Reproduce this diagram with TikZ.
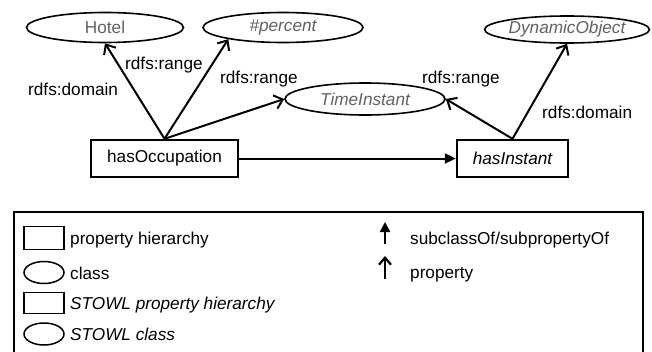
\documentclass[tikz,border=0pt]{standalone}
\usepackage{fontspec}
\setmainfont{Liberation Sans}
\usetikzlibrary{arrows.meta,shapes.geometric}
\begin{document}
\begin{tikzpicture}[x=1pt,y=-1pt,
  every node/.style={font=\fontsize{17.2}{20}\selectfont},
  cls/.style={ellipse, draw, line width=1.6pt, minimum width=157pt,
    minimum height=30pt, inner sep=0pt, text=black!62},
  prop/.style={rectangle, draw, line width=2.4pt, minimum height=37pt, inner sep=0pt},
  rel/.style={line width=2pt, -{Straight Barb[length=8pt,width=14pt,line width=2pt]}},
  sub/.style={line width=2pt, -{Triangle[length=11pt,width=10pt]}},
  lbl/.style={anchor=base west, inner sep=0pt},
  keyrect/.style={rectangle, draw, line width=1.5pt, minimum width=40pt, minimum height=23pt, inner sep=0pt},
  keyell/.style={ellipse, draw, line width=1.5pt, minimum width=40pt, minimum height=22pt, inner sep=0pt},
]
\useasboundingbox (0,0) rectangle (652,351);

% classes
\node[cls] (hotel) at (105,27.5) {Hotel};
\node[cls, minimum width=160pt] (pct) at (283,27.5) {\itshape \#percent};
\node[cls, minimum width=160pt, minimum height=32pt] (ti) at (365,99) {\itshape TimeInstant};
\node[cls, minimum width=155pt, minimum height=27pt] (dyn) at (567,29.5) {\itshape DynamicObject};

% properties
\node[prop, minimum width=147pt] (occ) at (164.5,158.5) {hasOccupation};
\node[prop, minimum width=111pt] (inst) at (512.5,158.5) {\itshape hasInstant};

% property edges
\draw[rel] (occ.north) -- (hotel.south);
\draw[rel] (occ.north) -- (pct.192);
\draw[rel] (occ.north) -- (ti.west);
\draw[rel] (inst.north) -- (ti.east);
\draw[rel] (inst.north) -- (dyn.south);
\draw[sub] (occ.east) -- (inst.west);

% edge labels
\node[lbl] (l1) at (28,95) {rdfs:domain};
\node[lbl] (l2) at (125,69) {rdfs:range};
\node[lbl] (l3) at (220,83) {rdfs:range};
\node[lbl] (l4) at (422,83) {rdfs:range};
\node[lbl] (l5) at (542,118) {rdfs:domain};

% legend
\draw[line width=2pt] (14,353) -- (14,212) -- (643,212) -- (643,353);
\node[keyrect] (k1) at (44,238) {};
\node[keyell] (k2) at (44,272.5) {};
\node[keyrect, minimum height=21pt] (k3) at (44,303) {};
\node[keyell] (k4) at (44,334) {};
\node[lbl] (t1) at (70,244) {property hierarchy};
\node[lbl] (t2) at (70,279) {class};
\node[lbl] (t3) at (70,309) {\itshape STOWL property hierarchy};
\node[lbl] (t4) at (70,340) {\itshape STOWL class};

\coordinate (s0) at (385,244);
\coordinate (s1) at (385,222);
\draw[line width=2.2pt, -{Triangle[length=10pt,width=10pt]}] (s0) -- (s1);
\coordinate (p0) at (385,279);
\coordinate (p1) at (385,256);
\draw[line width=2.2pt, -{Straight Barb[length=7pt,width=12pt,line width=2.2pt]}] (p0) -- (p1);
\node[lbl] (t5) at (410,244) {subclassOf/subpropertyOf};
\node[lbl] (t6) at (410,278) {property};
\end{tikzpicture}
\end{document}
